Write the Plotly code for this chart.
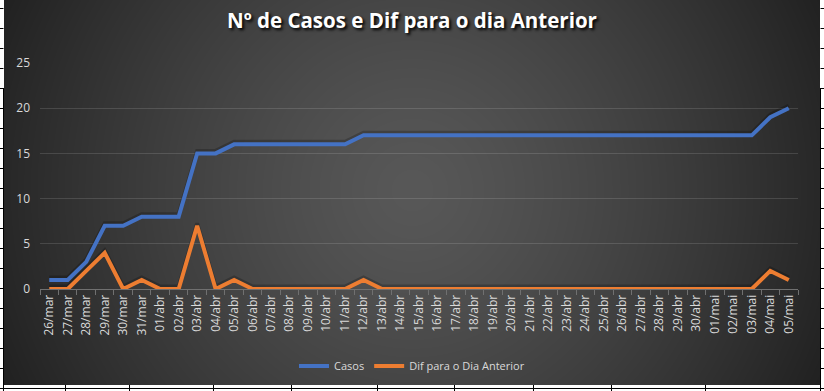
import base64
import struct
import zlib

import numpy as np
import plotly.graph_objects as go

# ---------------- data ----------------
dates = [
    "26/mar", "27/mar", "28/mar", "29/mar", "30/mar", "31/mar",
    "01/abr", "02/abr", "03/abr", "04/abr", "05/abr", "06/abr", "07/abr",
    "08/abr", "09/abr", "10/abr", "11/abr", "12/abr", "13/abr", "14/abr",
    "15/abr", "16/abr", "17/abr", "18/abr", "19/abr", "20/abr", "21/abr",
    "22/abr", "23/abr", "24/abr", "25/abr", "26/abr", "27/abr", "28/abr",
    "29/abr", "30/abr", "01/mai", "02/mai", "03/mai", "04/mai", "05/mai",
]
casos = [1, 1, 3, 7, 7, 8, 8, 8, 15, 15, 16, 16, 16, 16, 16, 16, 16,
         17, 17, 17, 17, 17, 17, 17, 17, 17, 17, 17, 17, 17, 17, 17, 17,
         17, 17, 17, 17, 17, 17, 19, 20]
dif = [0, 0, 2, 4, 0, 1, 0, 0, 7, 0, 1, 0, 0, 0, 0, 0, 0, 1,
       0, 0, 0, 0, 0, 0, 0, 0, 0, 0, 0, 0, 0, 0, 0, 0, 0, 0, 0, 0, 0,
       2, 1]
y_ticks = [0, 5, 10, 15, 20, 25]

title_text = "Nº de Casos e Dif para o dia Anterior"
name_casos = "Casos"
name_dif = "Dif para o Dia Anterior"

# ---------------- layout geometry (pixels) ----------------
W, H = 824, 391
PL, PR, PT, PB = 40, 798, 63, 289          # plot area box
CH_X0, CH_X1, CH_Y0, CH_Y1 = 4, 820, 0, 385  # chart area (dark)


def px_to_paper_x(px):
    return (px - PL) / (PR - PL)


def px_to_paper_y(py):
    return (PB - py) / (PB - PT)


# ---------------- radial gradient background image ----------------
gw, gh = CH_X1 - CH_X0, CH_Y1 - CH_Y0
yy, xx = np.mgrid[0:gh, 0:gw].astype(float)
cx, cy = 412 - CH_X0, 190 - CH_Y0
r = np.sqrt((xx - cx) ** 2 + (yy - cy) ** 2) / 434.0
val = 88 - 52 * np.clip(r, 0, 1.2) ** 1.3
val = np.clip(val, 0, 255).astype(np.uint8)
img = np.stack([val, val, val], axis=-1)


def to_png(arr):
    h, w, _ = arr.shape
    raw = b"".join(b"\x00" + arr[i].tobytes() for i in range(h))

    def chunk(tag, data):
        c = struct.pack(">I", len(data)) + tag + data
        return c + struct.pack(">I", zlib.crc32(tag + data) & 0xFFFFFFFF)

    ihdr = struct.pack(">IIBBBBB", w, h, 8, 2, 0, 0, 0)
    return (b"\x89PNG\r\n\x1a\n" + chunk(b"IHDR", ihdr)
            + chunk(b"IDAT", zlib.compress(raw, 9)) + chunk(b"IEND", b""))


bg_src = "data:image/png;base64," + base64.b64encode(to_png(img)).decode()

# ---------------- figure ----------------
fig = go.Figure()

blue = "#4472C4"
orange = "#ED7D31"
shadow = "rgba(0,0,0,0.22)"

# soft shadows (on a slightly shifted axis)
fig.add_trace(go.Scatter(x=dates, y=casos, mode="lines", yaxis="y",
                         line=dict(color=shadow, width=4),
                         showlegend=False, hoverinfo="skip"))
fig.add_trace(go.Scatter(x=dates, y=dif, mode="lines", yaxis="y",
                         line=dict(color=shadow, width=4),
                         showlegend=False, hoverinfo="skip"))
# main lines
fig.add_trace(go.Scatter(x=dates, y=casos, mode="lines", name=name_casos,
                         yaxis="y2", line=dict(color=blue, width=4)))
fig.add_trace(go.Scatter(x=dates, y=dif, mode="lines", name=name_dif,
                         yaxis="y2", line=dict(color=orange, width=4)))

axis_grey = "#707070"
label_col = "#D9D9D9"
shift = 2.5 / ((PB - PT) / 25.0)

fig.update_layout(
    width=W, height=H,
    margin=dict(l=PL, r=W - PR, t=PT, b=H - PB, pad=0, autoexpand=False),
    paper_bgcolor="white",
    plot_bgcolor="rgba(0,0,0,0)",
    font=dict(family="Open Sans", color=label_col, size=12),
    title=dict(text=title_text, x=0.5, xref="container", xanchor="center",
               y=1 - 21 / H, yref="container", yanchor="middle",
               font=dict(family="Open Sans", size=20.5, color="white",
                         weight="bold", shadow="2px 2px 3px #000000")),
    xaxis=dict(type="category", range=[-0.5, len(dates) - 0.5],
               automargin=False,
               tickson="boundaries", ticks="outside", ticklen=5,
               tickcolor=axis_grey, tickwidth=1,
               showline=True, linecolor=axis_grey, linewidth=1,
               showgrid=False, tickangle=-90,
               tickfont=dict(size=12, color=label_col)),
    yaxis=dict(range=[-shift, 25 - shift], visible=False, showgrid=False,
               automargin=False, fixedrange=True),
    yaxis2=dict(range=[0, 25], overlaying="y", side="left",
                automargin=False,
                tickvals=y_ticks, showgrid=True,
                gridcolor="rgba(255,255,255,0.13)", gridwidth=1,
                zeroline=False, showline=False, ticks="",
                ticklabelstandoff=9,
                tickfont=dict(size=12, color=label_col)),
    legend=dict(orientation="h", x=0.5, xref="container", xanchor="center",
                y=1 - 366 / H, yref="container", yanchor="middle",
                font=dict(size=11, color=label_col),
                bgcolor="rgba(0,0,0,0)", itemwidth=30),
    showlegend=True,
    images=[dict(source=bg_src, xref="paper", yref="paper",
                 x=px_to_paper_x(CH_X0), y=px_to_paper_y(CH_Y0),
                 sizex=(CH_X1 - CH_X0) / (PR - PL),
                 sizey=(CH_Y1 - CH_Y0) / (PB - PT),
                 xanchor="left", yanchor="top", sizing="stretch",
                 layer="below")],
)

# spreadsheet cell borders around the chart
shapes = []
line_k = dict(color="black", width=1)
shapes.append(dict(type="line", xref="paper", yref="paper",
                   x0=px_to_paper_x(3.5), x1=px_to_paper_x(3.5),
                   y0=px_to_paper_y(88), y1=px_to_paper_y(391), line=line_k))
shapes.append(dict(type="line", xref="paper", yref="paper",
                   x0=px_to_paper_x(820.5), x1=px_to_paper_x(820.5),
                   y0=px_to_paper_y(88), y1=px_to_paper_y(391), line=line_k))
for ry in range(8, 380, 20):
    shapes.append(dict(type="line", xref="paper", yref="paper",
                       x0=px_to_paper_x(0), x1=px_to_paper_x(3.5),
                       y0=px_to_paper_y(ry + 0.5), y1=px_to_paper_y(ry + 0.5),
                       line=line_k))
    shapes.append(dict(type="line", xref="paper", yref="paper",
                       x0=px_to_paper_x(820.5), x1=px_to_paper_x(824),
                       y0=px_to_paper_y(ry + 0.5), y1=px_to_paper_y(ry + 0.5),
                       line=line_k))
shapes.append(dict(type="line", xref="paper", yref="paper",
                   x0=px_to_paper_x(0), x1=px_to_paper_x(824),
                   y0=px_to_paper_y(388.5), y1=px_to_paper_y(388.5),
                   line=line_k))
for cxp in [65, 129, 213, 291, 377, 454, 533, 611, 705]:
    shapes.append(dict(type="line", xref="paper", yref="paper",
                       x0=px_to_paper_x(cxp + 0.5), x1=px_to_paper_x(cxp + 0.5),
                       y0=px_to_paper_y(385), y1=px_to_paper_y(391),
                       line=line_k))
fig.update_layout(shapes=shapes)

# remove the default 8px page margin so the figure sits at the window origin
fig.write_html(
    "out.html",
    config={"displayModeBar": False},
    post_script="document.body.style.margin='0';"
                "document.body.style.overflow='hidden';",
)
